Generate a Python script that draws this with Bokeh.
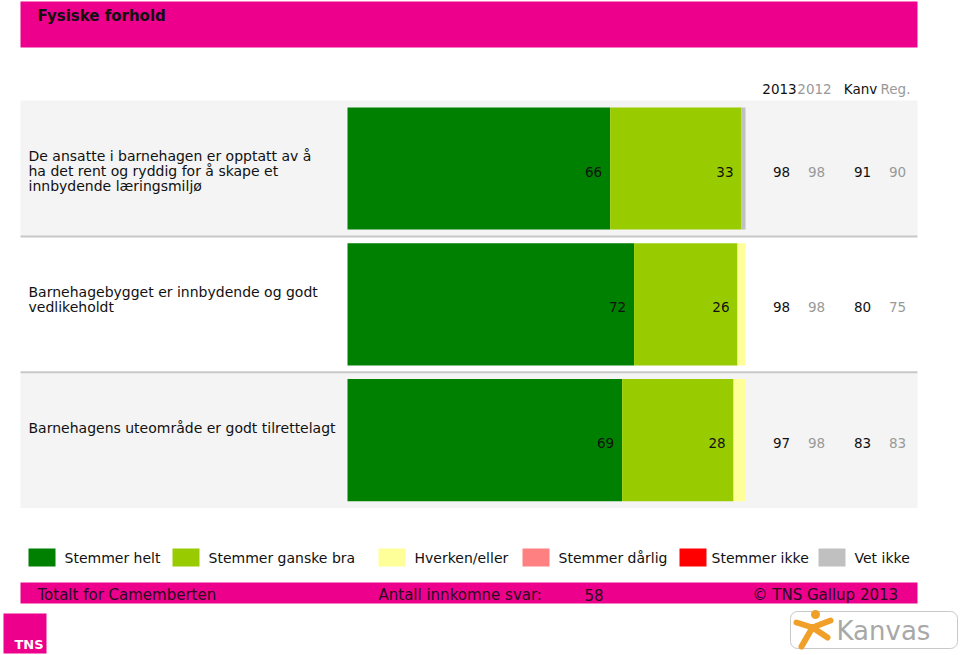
from bokeh.plotting import figure
from bokeh.models import Range1d
from bokeh.core.properties import value
from bokeh.embed import file_html
from bokeh.resources import INLINE

# ---------------- data ----------------
questions = [
    ["De ansatte i barnehagen er opptatt av å",
     "ha det rent og ryddig for å skape et",
     "innbydende læringsmiljø"],
    ["Barnehagebygget er innbydende og godt",
     "vedlikeholdt"],
    ["Barnehagens uteområde er godt tilrettelagt"],
]
series_names = ["Stemmer helt", "Stemmer ganske bra", "Hverken/eller",
                "Stemmer dårlig", "Stemmer ikke", "Vet ikke"]
stemmer_helt = [66, 72, 69]
stemmer_ganske_bra = [33, 26, 28]
hverken_eller = [0, 2, 3]
stemmer_darlig = [0, 0, 0]
stemmer_ikke = [0, 0, 0]
vet_ikke = [1, 0, 0]
col_headers = ["2013", "2012", "Kanv", "Reg."]
val_2013 = [98, 98, 97]
val_2012 = [98, 98, 98]
val_kanv = [91, 80, 83]
val_reg = [90, 75, 83]
footer_left = "Totalt for Camemberten"
footer_mid = "Antall innkomne svar:"
n_answers = "58"
footer_right = "© TNS Gallup 2013"
title = "Fysiske forhold"

# ---------------- styles ----------------
colors = ["#008000", "#99CC00", "#FFFF99", "#FF8080", "#FF0000", "#C0C0C0"]
MAGENTA = "#EC008C"
FONT = value("DejaVu Sans")
W, H = 960, 655

# page-pixel coordinate system
p = figure(width=W, height=H, output_backend="svg", toolbar_location=None,
           x_range=Range1d(0, W), y_range=Range1d(H, 0),
           x_axis_type=None, y_axis_type=None, min_border=0,
           background_fill_color="white", border_fill_color="white")
p.outline_line_color = None

# percentage scale for the bars: 0 -> x=347, 100 -> x=746
X0, KX = 347.0, 3.98
p.extra_x_ranges = {"pct": Range1d((0 - X0) / KX, (W - X0) / KX)}
# row scale: row centre 0 at y=168, spacing 135.8 px
Y0, KY = 168.0, 135.8
p.extra_y_ranges = {"rows": Range1d((H - Y0) / KY, (0 - Y0) / KY)}

# title bar
p.quad(left=[20], right=[917], top=[1], bottom=[47], fill_color=MAGENTA, line_color=None)
p.text(x=[37], y=[15], text=[title], text_font=FONT, text_font_size="15px",
       text_font_style="bold", text_color="#111111", text_baseline="middle")

# column headers
col_x = [779, 814, 860, 895]
col_colors = ["#111111", "#999999", "#111111", "#999999"]
for cx, hdr, cc in zip(col_x, col_headers, col_colors):
    p.text(x=[cx], y=[88], text=[hdr], text_font=FONT, text_font_size="13.5px",
           text_color=cc, text_align="center", text_baseline="middle")

# row bands
rows = list(range(len(questions)))
band_cols = ["#F4F4F4" if i % 2 == 0 else "#FFFFFF" for i in rows]
p.hbar(y=rows, height=1.0, left=20, right=917, fill_color=band_cols,
       line_color=None, y_range_name="rows")
p.segment(x0=[20] * (len(rows) - 1), x1=[917] * (len(rows) - 1),
          y0=[i + 0.5 for i in rows[:-1]], y1=[i + 0.5 for i in rows[:-1]],
          line_color="#C8C8C8", line_width=2, y_range_name="rows")

# stacked bars
series = [stemmer_helt, stemmer_ganske_bra, hverken_eller, stemmer_darlig,
          stemmer_ikke, vet_ikke]
for i in rows:
    cum = 0
    for j, s in enumerate(series):
        v = s[i]
        if v > 0:
            p.hbar(y=[i], height=0.9, left=[cum], right=[cum + v],
                   fill_color=colors[j], line_color=None,
                   x_range_name="pct", y_range_name="rows")
            if v >= 5:
                p.text(x=[cum + v], y=[i], text=[str(v)], x_offset=-8, y_offset=3,
                       text_font=FONT, text_font_size="13.5px", text_color="#111111",
                       text_align="right", text_baseline="middle",
                       x_range_name="pct", y_range_name="rows")
        cum += v

# value columns
for cx, vals, cc in zip(col_x, [val_2013, val_2012, val_kanv, val_reg], col_colors):
    p.text(x=[cx + 2] * len(rows), y=rows, text=[str(v) for v in vals], y_offset=3,
           text_font=FONT, text_font_size="13.5px", text_color=cc,
           text_align="center", text_baseline="middle", y_range_name="rows")

# question texts
for i, lines in enumerate(questions):
    for k, line in enumerate(lines):
        p.text(x=[28], y=[Y0 + KY * i - 12.5 + 15 * k], text=[line],
               text_font=FONT, text_font_size="14px", text_color="#111111",
               text_baseline="middle")

# legend
leg_sq_x = [41.5, 185.5, 391.5, 535.5, 692.5, 831.5]
leg_tx_x = [64, 208, 414, 558, 711, 854]
p.rect(x=leg_sq_x, y=[557] * 6, width=27, height=18, fill_color=colors, line_color=None)
p.text(x=leg_tx_x, y=[557] * 6, text=series_names, text_font=FONT,
       text_font_size="14px", text_color="#111111", text_baseline="middle")

# footer bar
p.quad(left=[20], right=[917], top=[582], bottom=[603], fill_color=MAGENTA, line_color=None)
p.text(x=[37, 378, 584, 752], y=[594] * 4,
       text=[footer_left, footer_mid, n_answers, footer_right],
       text_font=FONT, text_font_size="15px", text_color="#2a0a1e",
       text_baseline="middle")

# TNS logo
p.quad(left=[3], right=[46], top=[613], bottom=[653], fill_color=MAGENTA, line_color=None)
p.text(x=[14], y=[644], text=["TNS"], text_font=FONT, text_font_size="13px",
       text_font_style="bold", text_color="white", text_baseline="middle")

# Kanvas logo
p.quad(left=[790], right=[957], top=[611], bottom=[648], fill_color="white",
       line_color="#C8C8C8", line_width=1, border_radius=7)
ORANGE = "#F0A028"
p.multi_line(xs=[[796, 812, 830], [812, 801], [812, 827]],
             ys=[[622, 627, 620], [627, 646], [627, 637]],
             line_color=ORANGE, line_width=6, line_cap="round")
p.scatter(x=[815], y=[614], size=9, fill_color=ORANGE, line_color=None)
p.text(x=[836], y=[630], text=["Kanvas"], text_font=FONT,
       text_font_size="26px", text_color="#A8A8A8", text_baseline="middle")

open("out.html", "w").write(file_html(p, INLINE))
